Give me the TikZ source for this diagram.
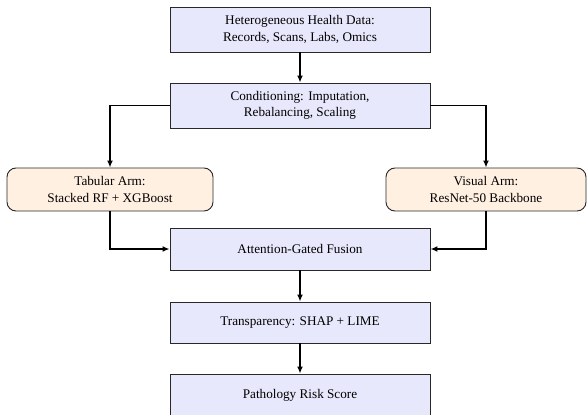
\documentclass[tikz,border=0pt]{standalone}
\usepackage{fontspec}
\setmainfont{Liberation Serif}
\usetikzlibrary{arrows.meta}
\definecolor{lav}{RGB}{232,232,252}
\definecolor{peach}{RGB}{255,240,226}
\definecolor{edge}{RGB}{40,40,40}
\begin{document}
\begin{tikzpicture}[x=1pt,y=-1pt,
  boxbase/.style={draw=edge,line width=0.9pt,align=center,inner sep=0pt,
    font=\fontsize{13.2}{16.5}\selectfont},
  mainbox/.style={boxbase,fill=lav,minimum width=260pt},
  armbox/.style={boxbase,fill=peach,rounded corners=9pt,minimum height=43pt},
  conn/.style={line width=1.4pt,-{Latex[length=7pt,width=6pt]}}]
\useasboundingbox (0,0) rectangle (587,415);
\node[mainbox,minimum height=45pt] (b1) at (300,29.5) {Heterogeneous Health Data:\\Records, Scans, Labs, Omics};
\node[mainbox,minimum height=45pt] (b2) at (300,105.5) {Conditioning: Imputation,\\Rebalancing, Scaling};
\node[armbox,minimum width=206pt] (tab) at (110,189.5) {Tabular Arm:\\Stacked RF + XGBoost};
\node[armbox,minimum width=200pt] (vis) at (486,189.5) {Visual Arm:\\ResNet-50 Backbone};
\node[mainbox,minimum height=42pt] (fus) at (300,249) {Attention-Gated Fusion};
\node[mainbox,minimum height=41pt] (tra) at (300,322.5) {Transparency: SHAP + LIME};
\node[mainbox,minimum height=42pt] (pat) at (300,395) {Pathology Risk Score};
\draw[conn] (b1) -- (b2);
\draw[conn] (b2.west) -| (tab.north);
\draw[conn] (b2.east) -| (vis.north);
\draw[conn] (tab.south) |- (fus.west);
\draw[conn] (vis.south) |- (fus.east);
\draw[conn] (fus) -- (tra);
\draw[conn] (tra) -- (pat);
\end{tikzpicture}
\end{document}
